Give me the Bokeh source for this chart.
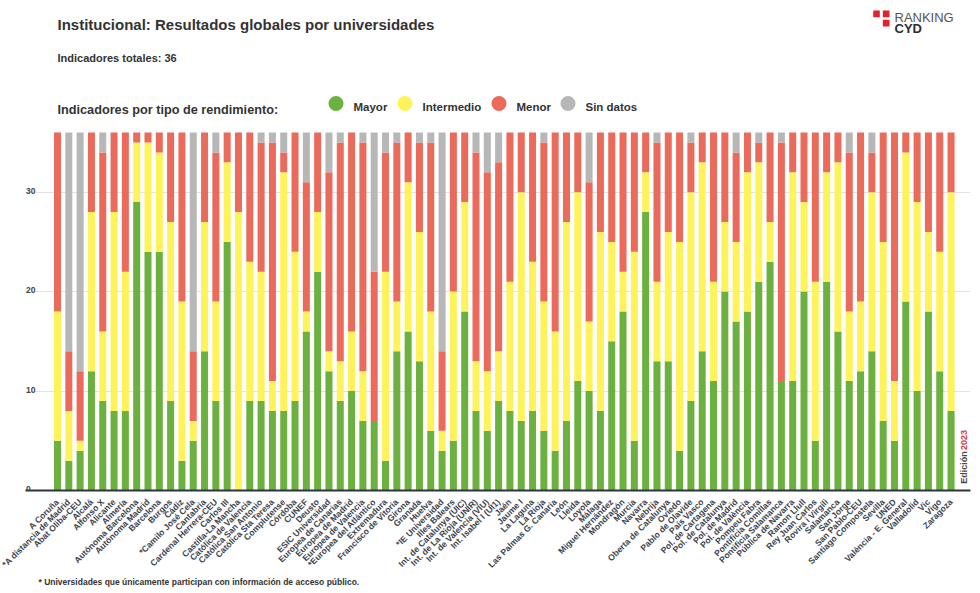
import math
from bokeh.plotting import figure
from bokeh.models import ColumnDataSource, Range1d, FixedTicker, Label, BoxAnnotation, Title
from bokeh.core.properties import value
from bokeh.embed import file_html
from bokeh.resources import INLINE

universidades = [
    "A Coruña", "*A distancia de Madrid", "Abat Oliba-CEU", "Alcalá", "Alfonso X",
    "Alicante", "Almería", "Autónoma Barcelona", "Autónoma Madrid", "Barcelona",
    "Burgos", "Cádiz", "*Camilo José Cela", "Cantabria", "Cardenal Herrera-CEU",
    "Carlos III", "Castilla-La Mancha", "Católica de Valencia", "Católica San Antonio", "Católica Sta Teresa",
    "Complutense", "Córdoba", "CUNEF", "Deusto", "ESIC Universidad",
    "Europea de Canarias", "Europea de Madrid", "Europea de Valencia", "*Europea del Atlántico", "Extremadura",
    "Francisco de Vitoria", "Girona", "Granada", "Huelva", "*IE Universidad",
    "Illes Balears", "Int. de Catalunya (UIC)", "Int. de La Rioja (UNIR)", "Int. de Valencia (VIU)", "Int. Isabel I (UI1)",
    "Jaén", "Jaume I", "La Laguna", "La Rioja", "Las Palmas G. Canaria",
    "León", "Lleida", "Loyola", "Málaga", "Miguel Hernández",
    "Mondragón", "Murcia", "Navarra", "Nebrija", "Oberta de Catalunya",
    "Oviedo", "Pablo de Olavide", "País Vasco", "Pol. de Cartagena", "Pol. de Catalunya",
    "Pol. de Madrid", "Pol. de València", "Pompeu Fabra", "Pontificia Comillas", "Pontificia Salamanca",
    "Pública de Navarra", "Ramon Llull", "Rey Juan Carlos", "Rovira i Virgili", "Salamanca",
    "San Jorge", "San Pablo-CEU", "Santiago Compostela", "Sevilla", "UNED",
    "València - E. General", "Valladolid", "Vic", "Vigo", "Zaragoza",
]

mayor = [5, 3, 4, 12, 9, 8, 8, 29, 24, 24,
         9, 3, 5, 14, 9, 25, 0, 9, 9, 8,
         8, 9, 16, 22, 12, 9, 10, 7, 7, 3,
         14, 16, 13, 6, 4, 5, 18, 8, 6, 9,
         8, 7, 8, 6, 4, 7, 11, 10, 8, 15,
         18, 5, 28, 13, 13, 4, 9, 14, 11, 20,
         17, 18, 21, 23, 11, 11, 20, 5, 21, 16,
         11, 12, 14, 7, 5, 19, 10, 18, 12, 8]
intermedio = [13, 5, 1, 16, 7, 20, 14, 6, 11, 10,
              18, 16, 2, 13, 10, 8, 28, 14, 13, 3,
              24, 15, 2, 6, 2, 4, 6, 5, 0, 19,
              5, 15, 13, 12, 2, 15, 11, 5, 6, 5,
              13, 23, 15, 13, 12, 20, 19, 7, 18, 10,
              4, 19, 4, 8, 13, 21, 21, 19, 10, 7,
              8, 14, 12, 4, 0, 21, 9, 16, 11, 17,
              7, 7, 16, 18, 6, 15, 19, 8, 12, 22]
menor = [18, 6, 7, 8, 18, 8, 14, 1, 1, 2,
         9, 17, 7, 9, 15, 3, 8, 13, 13, 24,
         2, 12, 13, 8, 18, 22, 20, 23, 15, 12,
         16, 5, 9, 17, 8, 16, 7, 21, 20, 19,
         15, 6, 13, 16, 20, 9, 6, 14, 10, 11,
         14, 12, 4, 14, 10, 11, 5, 3, 15, 9,
         9, 4, 2, 9, 24, 4, 7, 15, 4, 3,
         16, 17, 4, 11, 25, 2, 7, 10, 12, 6]
sin_datos = [0, 22, 24, 0, 2, 0, 0, 0, 0, 0,
             0, 0, 22, 0, 2, 0, 0, 0, 1, 1,
             2, 0, 5, 0, 4, 1, 0, 1, 14, 2,
             1, 0, 1, 1, 22, 0, 0, 2, 4, 3,
             0, 0, 0, 1, 0, 0, 0, 5, 0, 0,
             0, 0, 0, 1, 0, 0, 1, 0, 0, 0,
             2, 0, 1, 0, 1, 0, 0, 0, 0, 0,
             2, 0, 2, 0, 0, 0, 0, 0, 0, 0]

series = ["Mayor", "Intermedio", "Menor", "Sin datos"]
colores = ["#6cb13f", "#fff35c", "#ea6b5b", "#b7b7b7"]
y_ticks = [0, 10, 20, 30]
total_indicadores = 36

FONT = "Liberation Sans"
TEXT = "#333333"

x = list(range(len(universidades)))
source = ColumnDataSource(data={
    "x": x,
    "Mayor": mayor,
    "Intermedio": intermedio,
    "Menor": menor,
    "Sin datos": sin_datos,
})

# layout geometry (pixels)
W, H = 980, 593
FX, FY = 25, 490          # frame left / frame bottom (page px)
BAR_TOP = 132             # page y of the value 36
px_per_unit = (FY - BAR_TOP) / total_indicadores
y_top = FY / px_per_unit  # frame extends to the canvas top (header drawn inside)

x_start, x_end = -2.83, len(universidades) - 1 + 1.72

p = figure(width=W, height=H, output_backend="svg", toolbar_location=None,
           x_range=Range1d(x_start, x_end), y_range=Range1d(0, y_top),
           y_axis_location=None, min_border_left=FX, min_border_right=10,
           min_border_top=0, min_border_bottom=H - FY)
p.outline_line_color = None
p.background_fill_color = "white"
p.border_fill_color = "white"

p.vbar_stack(series, x="x", width=0.62, color=colores, line_color=None, source=source)

# axes / grid
ax = p.xaxis[0]
ax.ticker = FixedTicker(ticks=x)
ax.major_label_overrides = {i: n for i, n in zip(x, universidades)}
ax.major_label_orientation = math.pi / 4
ax.major_label_text_font = FONT
ax.major_label_text_font_style = "bold"
ax.major_label_text_font_size = "8.6px"
ax.major_label_text_color = "#3d4451"
ax.major_label_standoff = 4
ax.axis_line_color = "#2e3542"
ax.axis_line_width = 2
ax.major_tick_line_color = None
ax.minor_tick_line_color = None

p.xgrid.visible = False
p.ygrid[0].ticker = FixedTicker(ticks=y_ticks)
p.ygrid.grid_line_color = "#e3e3e3"
p.ygrid.grid_line_width = 1

p.text(x=[x_start] * len(y_ticks), y=y_ticks, text=[str(t) for t in y_ticks],
       text_font=value(FONT), text_font_style="bold", text_font_size=value("8.5px"),
       text_color="#444444", text_baseline="alphabetic", text_align="left",
       x_offset=0.5, y_offset=-1.5)


def txt(text, px, py, size, color=TEXT, bold=True, align="left", baseline="alphabetic", angle=0.0):
    p.add_layout(Label(x=px - FX, y=FY - py, x_units="screen", y_units="screen", text=text,
                       text_font=FONT, text_font_size=f"{size}px",
                       text_font_style="bold" if bold else "normal", text_color=color,
                       text_align=align, text_baseline=baseline, angle=angle))


def box(l, r, t, b, color, radius=0):
    p.add_layout(BoxAnnotation(left=l - FX, right=r - FX, top=FY - t, bottom=FY - b,
                               left_units="screen", right_units="screen",
                               top_units="screen", bottom_units="screen",
                               fill_color=color, fill_alpha=1, line_color=None,
                               border_radius=int(radius), level="overlay"))


txt("Institucional: Resultados globales por universidades", 57, 24.3, 15)
txt(f"Indicadores totales: {total_indicadores}", 57, 57.3, 11)
txt("Indicadores por tipo de rendimiento:", 57, 109.5, 12.7)

legend_label_x = [353, 422, 516, 585]
for lx, name, col in zip(legend_label_x, series, colores):
    cx = lx - 17.5
    box(cx - 7.5, cx + 7.5, 95.5, 110.5, col, radius=8)
    txt(name, lx, 106.7, 11.5)

# logo
box(872.7, 879.3, 10, 16.7, "#e0232e")
box(882.3, 889, 10, 16.7, "#e0232e")
box(882.3, 889, 19.3, 26, "#e0232e")
txt("RANKING", 894, 16.7, 13, color="#555555", bold=False)
txt("CYD", 894, 28.3, 13, color="#2a2d38", bold=True)

# edition
txt("Edición", 963.5, 483.3, 9, color="#4a4a4a", baseline="middle", angle=math.pi / 2)
txt("2023", 963.5, 449.5, 9, color="#e8323c", baseline="middle", angle=math.pi / 2)

# footnote
foot = Title(text="* Universidades que únicamente participan con información de acceso público.",
             align="left", offset=38 - FX, text_font=FONT, text_font_size="8.5px",
             text_font_style="bold", text_color=TEXT, standoff=-4)
p.add_layout(foot, "below")

open("out.html", "w").write(file_html(p, INLINE))
